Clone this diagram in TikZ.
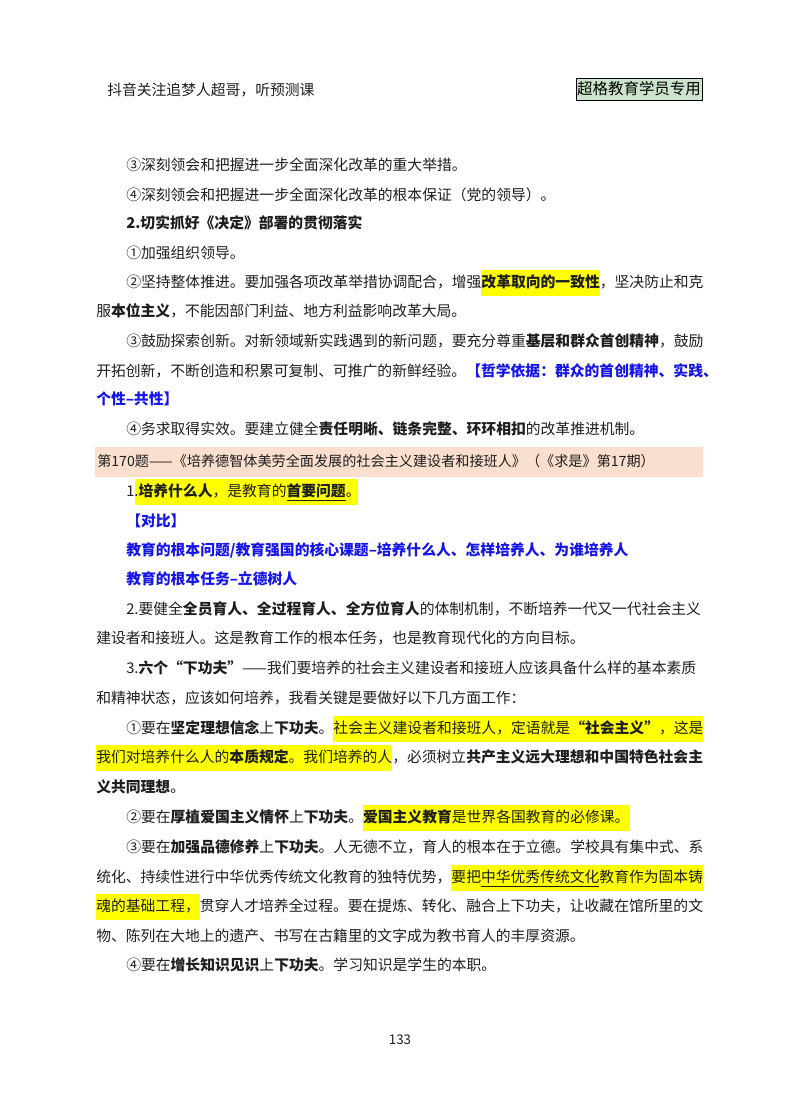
\documentclass[tikz,border=0pt]{standalone}
\usepackage{fontspec}
\setmainfont{Noto Sans CJK SC}
\XeTeXlinebreaklocale "zh"
\XeTeXlinebreakskip=0pt plus 3pt
\definecolor{hl}{RGB}{255,255,0}
\definecolor{band}{RGB}{250,222,206}
\definecolor{tagg}{RGB}{204,228,204}
\definecolor{bl}{RGB}{20,20,235}
\definecolor{tx}{RGB}{30,30,30}
\tikzset{ln/.style={anchor=west,inner sep=0,text height=0.86em,text depth=0.14em,font=\fontsize{11.1pt}{13pt}\selectfont,text=tx}}
\newcommand\tl[3]{\node[ln] (#1) at #2 {#3};}
\newcommand\fla[3]{\node[ln] (#1) at #2 {\makebox[432.75pt][s]{#3}};}
\newcommand\flb[3]{\node[ln] (#1) at #2 {\makebox[455.25pt][s]{#3}};}
\begin{document}
\begin{tikzpicture}[x=0.75pt,y=-0.75pt]
\useasboundingbox (0,0) rectangle (800,1114);
\fill[white] (0,0) rectangle (800,1114);
% highlights
\fill[band] (95,447) rectangle (703,477);
\fill[hl] (481,270) rectangle (600,296);
\fill[hl] (135,479) rectangle (358,505);
\fill[hl] (333,716) rectangle (703,742);
\fill[hl] (96,745) rectangle (392,771);
\fill[hl] (363,805) rectangle (630,831);
\fill[hl] (451,865) rectangle (703,891);
\fill[hl] (96,894) rectangle (200,920);
% header
\tl{h1}{(107,91)}{抖音关注追梦人超哥，听预测课}
\node[draw=black,fill=tagg,inner sep=0,minimum width=126*0.75pt,minimum height=22*0.75pt,font=\fontsize{11.6pt}{13pt}\selectfont] (tag) at (639,89) {超格教育学员专用};
% body
\tl{a1}{(126,166)}{③深刻领会和把握进一步全面深化改革的重大举措。}
\tl{a2}{(126,196)}{④深刻领会和把握进一步全面深化改革的根本保证（党的领导）。}
\tl{a3}{(126,224)}{\bfseries 2.切实抓好《决定》部署的贯彻落实}
\tl{a4}{(126,254)}{①加强组织领导。}
\fla{a5}{(126,283)}{②坚持整体推进。要加强各项改革举措协调配合，增强\textbf{改革取向的一致性}，坚决防止和克}
\tl{a6}{(96,312)}{服\textbf{本位主义}，不能因部门利益、地方利益影响改革大局。}
\fla{a7}{(126,342)}{③鼓励探索创新。对新领域新实践遇到的新问题，要充分尊重\textbf{基层和群众首创精神}，鼓励}
\tl{a8}{(96,372)}{开拓创新，不断创造和积累可复制、可推广的新鲜经验。\textcolor{bl}{\bfseries【哲学依据：群众的首创精神、实践、}}
\tl{a9}{(96,400)}{\color{bl}\bfseries 个性–共性】}
\tl{a10}{(126,430)}{④务求取得实效。要建立健全\textbf{责任明晰、链条完整、环环相扣}的改革推进机制。}
\node[ln,font=\fontsize{10.6pt}{13pt}\selectfont] (b0) at (97,462) {第170题——《培养德智体美劳全面发展的社会主义建设者和接班人》（《求是》第17期）};
\tl{b1}{(126,492)}{1.\textbf{培养什么人}，是教育的\textbf{\underline{首要问题}}。}
\tl{b2}{(126,522)}{\color{bl}\bfseries【对比】}
\tl{b3}{(126,551)}{\color{bl}\bfseries 教育的根本问题/教育强国的核心课题–培养什么人、怎样培养人、为谁培养人}
\tl{b4}{(126,580)}{\color{bl}\bfseries 教育的根本任务–立德树人}
\fla{b5}{(126,610)}{2.要健全\textbf{全员育人、全过程育人、全方位育人}的体制机制，不断培养一代又一代社会主义}
\tl{b6}{(96,639)}{建设者和接班人。这是教育工作的根本任务，也是教育现代化的方向目标。}
\fla{b7}{(126,669)}{3.\textbf{六个“下功夫”}——我们要培养的社会主义建设者和接班人应该具备什么样的基本素质}
\tl{b8}{(96,699)}{和精神状态，应该如何培养，我看关键是要做好以下几方面工作：}
\fla{c1}{(126,729)}{①要在\textbf{坚定理想信念}上\textbf{下功夫}。社会主义建设者和接班人，定语就是\textbf{“社会主义”}，这是}
\flb{c2}{(96,758)}{我们对培养什么人的\textbf{本质规定}。我们培养的人，必须树立\textbf{共产主义远大理想和中国特色社会主}}
\tl{c3}{(96,788)}{\textbf{义共同理想}。}
\tl{c4}{(126,818)}{②要在\textbf{厚植爱国主义情怀}上\textbf{下功夫}。\textbf{爱国主义教育}是世界各国教育的必修课。}
\fla{c5}{(126,848)}{③要在\textbf{加强品德修养}上\textbf{下功夫}。人无德不立，育人的根本在于立德。学校具有集中式、系}
\flb{c6}{(96,878)}{统化、持续性进行中华优秀传统文化教育的独特优势，要把\underline{中华优秀传统文化}教育作为固本铸}
\flb{c7}{(96,907)}{魂的基础工程，贯穿人才培养全过程。要在提炼、转化、融合上下功夫，让收藏在馆所里的文}
\tl{c8}{(96,937)}{物、陈列在大地上的遗产、书写在古籍里的文字成为教书育人的丰厚资源。}
\tl{c9}{(126,966)}{④要在\textbf{增长知识见识}上\textbf{下功夫}。学习知识是学生的本职。}
\node[font=\fontsize{10pt}{12pt}\selectfont,text=tx] (pg) at (400,1040) {133};
\end{tikzpicture}
\end{document}
